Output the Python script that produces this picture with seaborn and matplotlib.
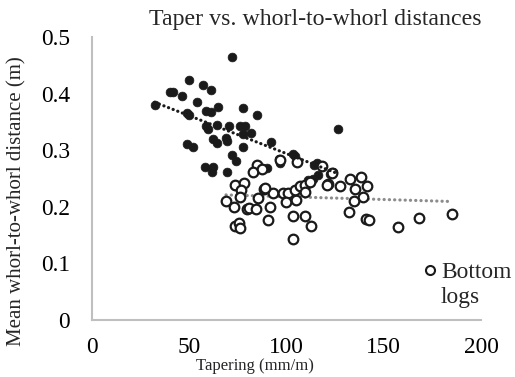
import numpy as np
import pandas as pd
import matplotlib
matplotlib.use("Agg")
import matplotlib.pyplot as plt
import seaborn as sns
from matplotlib.lines import Line2D

# ---- data ----
top_x = [32.2, 50.0, 57.2, 61.2, 40.1, 41.8, 46.1, 53.8, 49.0, 50.0, 58.6, 61.0, 64.9,
         77.8, 84.7, 58.6, 59.8, 64.4, 70.2, 76.1, 78.7, 77.8, 81.6, 62.0, 64.1, 68.9,
         69.6, 77.8, 48.7, 51.8, 71.8, 74.0, 58.1, 62.4, 61.5, 69.2, 89.8, 96.1, 96.7,
         103.5, 104.4, 114.3, 115.5, 116.4, 113.8, 111.2, 122.4, 124.1, 126.6, 91.9, 71.8]
top_y = [0.380, 0.424, 0.416, 0.406, 0.403, 0.403, 0.395, 0.386, 0.365, 0.363, 0.369, 0.367, 0.376,
         0.374, 0.363, 0.343, 0.337, 0.345, 0.343, 0.343, 0.342, 0.328, 0.330, 0.320, 0.312, 0.322,
         0.317, 0.306, 0.311, 0.306, 0.292, 0.281, 0.271, 0.271, 0.262, 0.262, 0.268, 0.284, 0.278,
         0.293, 0.290, 0.273, 0.277, 0.256, 0.250, 0.247, 0.258, 0.261, 0.338, 0.315, 0.465]

bottom_x = [85.0, 82.6, 87.2, 96.7, 105.2, 73.5, 78.1, 76.4, 76.1, 68.9, 88.6, 85.5, 93.2,
            98.4, 100.9, 99.7, 104.9, 104.4, 106.9, 109.5, 109.5, 112.0, 73.0, 79.5, 80.9,
            84.3, 91.5, 90.6, 103.5, 109.5, 112.4, 73.5, 75.7, 76.1, 103.5, 118.1, 123.2,
            121.5, 127.5, 132.6, 138.2, 135.2, 141.5, 139.5, 134.7, 132.3, 140.9, 142.6,
            184.9, 168.3, 157.5, 120.6, 88.9]
bottom_y = [0.274, 0.262, 0.266, 0.283, 0.280, 0.239, 0.242, 0.229, 0.217, 0.211, 0.231, 0.215, 0.225,
            0.225, 0.225, 0.209, 0.212, 0.230, 0.236, 0.239, 0.227, 0.243, 0.199, 0.196, 0.197,
            0.196, 0.199, 0.177, 0.183, 0.183, 0.166, 0.166, 0.172, 0.162, 0.143, 0.272, 0.259,
            0.240, 0.237, 0.250, 0.252, 0.231, 0.237, 0.217, 0.211, 0.191, 0.178, 0.177,
            0.187, 0.180, 0.164, 0.239, 0.233]

x_ticks = [0, 50, 100, 150, 200]
y_ticks = [0, 0.1, 0.2, 0.3, 0.4, 0.5]
y_tick_labels = ["0", "0.1", "0.2", "0.3", "0.4", "0.5"]

title = "Taper vs. whorl-to-whorl distances"
xlabel = "Tapering (mm/m)"
ylabel = "Mean whorl-to-whorl distance (m)"
legend_lines = ["Bottom", "logs"]

# ---- build data frames ----
top_df = pd.DataFrame({"x": top_x, "y": top_y})
bot_df = pd.DataFrame({"x": bottom_x, "y": bottom_y})

sns.set_theme(style="white")
plt.rcParams["font.family"] = ["Liberation Serif", "DejaVu Serif"]

W, H = 515, 377
fig = plt.figure(figsize=(W / 100, H / 100), dpi=100)
ax = fig.add_axes([92 / W, 1 - 320 / H, (481 - 92) / W, (320 - 37) / H])

dark = "#1a1a1a"
sns.scatterplot(data=top_df, x="x", y="y", ax=ax, color=dark, s=40,
                edgecolor=dark, linewidth=0.5, zorder=3)
sns.scatterplot(data=bot_df, x="x", y="y", ax=ax, facecolor="white", s=48,
                edgecolor=dark, linewidth=1.6, zorder=4)

sns.regplot(data=top_df, x="x", y="y", ax=ax, scatter=False, ci=None, truncate=True,
            line_kws=dict(color=dark, linewidth=2.3, linestyle=(0, (0.05, 1.5)),
                          dash_capstyle="round", zorder=5))
sns.regplot(data=bot_df, x="x", y="y", ax=ax, scatter=False, ci=None, truncate=True,
            line_kws=dict(color="#8c8c8c", linewidth=2.3, linestyle=(0, (0.05, 1.6)),
                          dash_capstyle="round", zorder=2))

ax.set_xlim(0, 200)
ax.set_ylim(0, 0.5)
ax.set_xticks(x_ticks)
ax.set_xticklabels([str(v) for v in x_ticks])
ax.set_yticks(y_ticks)
ax.set_yticklabels(y_tick_labels)
ax.set_xlabel("")
ax.set_ylabel("")

for side in ["top", "right"]:
    ax.spines[side].set_visible(False)
for side in ["left", "bottom"]:
    ax.spines[side].set_color("#bfbfbf")
    ax.spines[side].set_linewidth(1.5)
ax.grid(False)

renderer = fig.canvas.get_renderer()


def fit_size(txt, target, vertical=False):
    bb = txt.get_window_extent(renderer)
    cur = bb.height if vertical else bb.width
    return txt.get_fontsize() * target / cur


# tick label size from the "0.5" label width (~29 px in the reference)
probe = fig.text(0, 0, "0.5", fontsize=14)
tick_fs = fit_size(probe, 29)
probe.remove()
ax.tick_params(axis="both", length=0, labelsize=tick_fs, colors="black")
ax.tick_params(axis="x", pad=12)
ax.tick_params(axis="y", pad=16)

# title
t = fig.text(315 / W, 1 - 20 / H, title, ha="center", va="center", fontsize=14)
t.set_fontsize(fit_size(t, 335))

# x label
xl = fig.text(255 / W, 1 - 366 / H, xlabel, ha="center", va="center", fontsize=14)
xl.set_fontsize(fit_size(xl, 118))

# y label
yl = fig.text(17 / W, 1 - 201 / H, ylabel, ha="center", va="center",
              rotation=90, fontsize=14)
yl.set_fontsize(fit_size(yl, 292, vertical=True))

# legend (marker beside the first line, second line below it)
probe = fig.text(0, 0, legend_lines[0], fontsize=14)
leg_fs = fit_size(probe, 71)
probe.remove()
handle = Line2D([], [], marker="o", linestyle="none", markerfacecolor="white",
                markeredgecolor=dark, markeredgewidth=1.5, markersize=6.5)
leg = ax.legend([handle], [legend_lines[0]], loc="center left",
                bbox_to_anchor=((421 - 92) / (481 - 92), (320 - 272) / (320 - 37)),
                frameon=False, fontsize=leg_fs, handletextpad=0.05, handlelength=0.8,
                borderaxespad=0, borderpad=0)
fig.canvas.draw()
lt = leg.get_texts()[0].get_window_extent(renderer)
fig.text(lt.x0 / W, (lt.y0 + lt.y1) / 2 / H - 25 / H, legend_lines[1],
         ha="left", va="center", fontsize=leg_fs)

fig.savefig("out.png", dpi=100)
